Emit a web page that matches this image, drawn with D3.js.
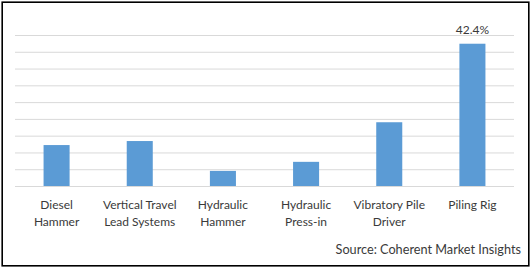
<!DOCTYPE html>
<html>
<head>
<meta charset="utf-8">
<script src="https://cdn.jsdelivr.net/npm/d3@7"></script>
<style>
  html, body { margin: 0; padding: 0; background: #fff; }
  svg { display: block; }
  text { font-family: Lato, "Open Sans", sans-serif; fill: #3a3a3a; }
</style>
</head>
<body>
<script>
const categories = [
  ["Diesel", "Hammer"],
  ["Vertical Travel", "Lead Systems"],
  ["Hydraulic", "Hammer"],
  ["Hydraulic", "Press-in"],
  ["Vibratory Pile", "Driver"],
  ["Piling Rig"]
];
const values = [12.2, 13.4, 4.5, 7.2, 19.0, 42.4];
const labelled = [false, false, false, false, false, true];
const yTicks = [0, 5, 10, 15, 20, 25, 30, 35, 40, 45];
const sourceText = "Source: Coherent Market Insights";

const W = 531, H = 268;
const svg = d3.select("body").append("svg").attr("width", W).attr("height", H);

svg.append("rect").attr("x", 2.2).attr("y", 2.2).attr("width", 526.6).attr("height", 263.6)
  .attr("fill", "#fff").attr("stroke", "#000").attr("stroke-width", 1.6);

const keys = categories.map((c, i) => i);
const x = d3.scaleBand().domain(keys).range([15, 514]).paddingInner(0.687).paddingOuter(0.3435);
const y = d3.scaleLinear().domain([0, 45]).range([186, 35]);

const yAxis = d3.axisLeft(y).tickValues(yTicks).tickSize(-(514 - 15)).tickFormat("");
const gy = svg.append("g").attr("transform", "translate(15,0)").call(yAxis);
gy.select(".domain").remove();
gy.selectAll(".tick line").attr("stroke", "#d9d9d9").attr("stroke-width", 1);

svg.append("g").selectAll("rect").data(values).join("rect")
  .attr("x", (d, i) => x(i))
  .attr("y", d => y(d))
  .attr("width", x.bandwidth())
  .attr("height", d => y(0) - y(d))
  .attr("fill", "#5b9bd5");

svg.append("g").selectAll("text").data(values.map((d, i) => [d, i]).filter(d => labelled[d[1]])).join("text")
  .attr("x", d => x(d[1]) + x.bandwidth() / 2)
  .attr("y", d => y(d[0]) - 9.3)
  .attr("text-anchor", "middle")
  .attr("font-size", 12)
  .text(d => d[0].toFixed(1) + "%");

const xl = svg.append("g").selectAll("text").data(categories).join("text")
  .attr("text-anchor", "middle")
  .attr("font-size", 12);
xl.each(function(lines, i) {
  const t = d3.select(this);
  lines.forEach((ln, j) => {
    t.append("tspan").attr("x", x(i) + x.bandwidth() / 2).attr("y", 209 + j * 17).text(ln);
  });
});

svg.append("text").attr("x", 521).attr("y", 254.3).attr("text-anchor", "end")
  .attr("font-size", 12.7).text(sourceText);
</script>
</body>
</html>
